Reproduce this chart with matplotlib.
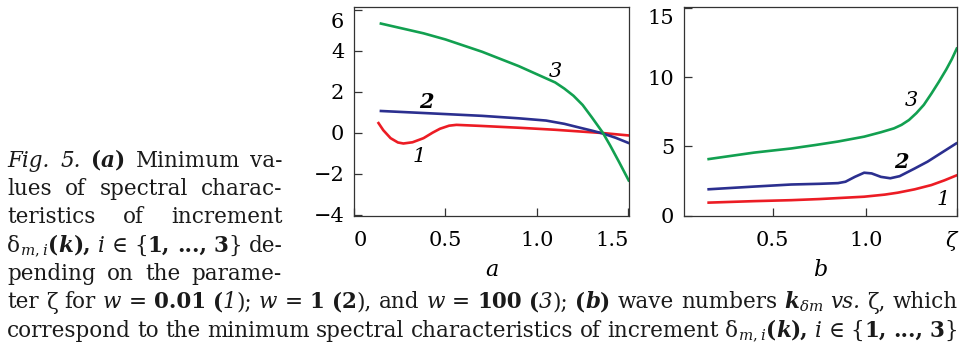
import matplotlib
matplotlib.use("Agg")
import matplotlib.pyplot as plt
from matplotlib.transforms import IdentityTransform, ScaledTranslation

# ---------------- data ----------------
# panel a: minimum spectral characteristics vs zeta
za1 = [0.13, 0.16, 0.20, 0.24, 0.27, 0.32, 0.38, 0.43, 0.47, 0.52, 0.56, 0.69, 0.90, 1.10, 1.36, 1.505]
va1 = [0.52, 0.12, -0.27, -0.48, -0.53, -0.47, -0.27, 0.00, 0.19, 0.34, 0.38, 0.33, 0.24, 0.14, -0.02, -0.14]
za2 = [0.14, 0.40, 0.70, 0.90, 1.05, 1.15, 1.24, 1.30, 1.36, 1.43, 1.505]
va2 = [1.06, 0.95, 0.82, 0.70, 0.59, 0.43, 0.23, 0.10, -0.04, -0.25, -0.52]
za3 = [0.14, 0.38, 0.50, 0.70, 0.90, 1.00, 1.10, 1.15, 1.20, 1.25, 1.30, 1.36, 1.40, 1.45, 1.505]
va3 = [5.34, 4.85, 4.55, 3.95, 3.25, 2.85, 2.45, 2.15, 1.80, 1.35, 0.75, 0.00, -0.62, -1.45, -2.39]

# panel b: wave numbers vs zeta
zb1 = [0.15, 0.40, 0.60, 0.75, 0.99, 1.10, 1.17, 1.26, 1.35, 1.42, 1.489]
vb1 = [0.94, 1.05, 1.12, 1.20, 1.37, 1.52, 1.66, 1.90, 2.21, 2.55, 2.93]
zb2 = [0.15, 0.40, 0.60, 0.75, 0.85, 0.89, 0.94, 0.99, 1.03, 1.08, 1.13, 1.18, 1.26, 1.33, 1.40, 1.489]
vb2 = [1.90, 2.10, 2.25, 2.30, 2.35, 2.45, 2.80, 3.10, 3.05, 2.80, 2.70, 2.85, 3.40, 3.90, 4.50, 5.26]
zb3 = [0.15, 0.40, 0.60, 0.73, 0.85, 0.99, 1.08, 1.15, 1.19, 1.23, 1.27, 1.31, 1.35, 1.39, 1.43, 1.46, 1.489]
vb3 = [4.07, 4.55, 4.85, 5.10, 5.35, 5.70, 6.02, 6.30, 6.55, 6.90, 7.40, 8.00, 8.80, 9.65, 10.55, 11.30, 12.14]

xticks_a = [0, 0.5, 1.0, 1.5]
xticklabels_a = ["0", "0.5", "1.0", "1.5"]
yticks_a = [-4, -2, 0, 2, 4, 6]
xticks_b = [0.5, 1.0, 1.489]
xticklabels_b = ["0.5", "1.0", "ζ"]
yticks_b = [0, 5, 10, 15]

curve_labels = ["1", "2", "3"]

RED = "#ec1c24"
BLUE = "#2b2f8f"
GREEN = "#12a050"
SPINE = "#333333"

W, H = 964, 352
fig = plt.figure(figsize=(W / 100, H / 100), dpi=100)

def px_axes(l, t, r, b):
    return fig.add_axes([l / W, 1 - b / H, (r - l) / W, (b - t) / H])

axa = px_axes(354, 7.3, 629.3, 216)
axb = px_axes(684, 7.3, 957.3, 215.7)

TICKFONT = dict(family="DejaVu Serif", size=15)

for ax in (axa, axb):
    for sp in ax.spines.values():
        sp.set_color(SPINE)
        sp.set_linewidth(0.9)
    ax.tick_params(direction="in", length=6, width=0.9, color=SPINE,
                   top=False, right=False)
    ax.tick_params(axis="x", pad=11)
    ax.tick_params(axis="y", pad=7)

lw = 1.9
axa.plot(za1, va1, color=RED, lw=lw, solid_capstyle="butt")
axa.plot(za2, va2, color=BLUE, lw=lw, solid_capstyle="butt")
axa.plot(za3, va3, color=GREEN, lw=lw, solid_capstyle="butt")
axa.set_xlim(0, 1.505)
axa.set_ylim(-4.07, 6.12)
axa.set_xticks(xticks_a)
axa.set_xticklabels(xticklabels_a, fontdict=TICKFONT)
axa.set_yticks(yticks_a)
axa.set_yticklabels([f"{v}".replace("-", "\u2212") for v in yticks_a], fontdict=TICKFONT)
xl = axa.get_xticklabels()
xl[0].set_ha("left")
xl[-1].set_ha("right")
axa.get_yticklabels()[-1].set_transform(
    axa.get_yticklabels()[-1].get_transform() + ScaledTranslation(0, -0.11, fig.dpi_scale_trans))
axa.set_xlabel("a", family="DejaVu Serif", style="italic", size=16, labelpad=6)

axb.plot(zb1, vb1, color=RED, lw=lw, solid_capstyle="butt")
axb.plot(zb2, vb2, color=BLUE, lw=lw, solid_capstyle="butt")
axb.plot(zb3, vb3, color=GREEN, lw=lw, solid_capstyle="butt")
axb.set_xlim(0.025, 1.489)
axb.set_ylim(0, 15.03)
axb.set_xticks(xticks_b)
axb.set_xticklabels(xticklabels_b, fontdict=TICKFONT)
axb.get_xticklabels()[-1].set_ha("right")
axb.get_xticklabels()[-1].set_style("italic")
axb.set_yticks(yticks_b)
axb.set_yticklabels([str(v) for v in yticks_b], fontdict=TICKFONT)
axb.get_yticklabels()[-1].set_transform(
    axb.get_yticklabels()[-1].get_transform() + ScaledTranslation(0, -0.085, fig.dpi_scale_trans))
axb.set_xlabel("b", family="DejaVu Serif", style="italic", size=16, labelpad=6)

LBL = dict(family="DejaVu Serif", style="italic", size=15, ha="center", va="center")
axa.text(0.355, -1.17, curve_labels[0], **LBL)
axa.text(0.396, 1.51, curve_labels[1], weight="bold", **LBL)
axa.text(1.10, 2.98, curve_labels[2], **LBL)
axb.text(1.411, 1.20, curve_labels[0], **LBL)
axb.text(1.187, 3.89, curve_labels[1], weight="bold", **LBL)
axb.text(1.245, 8.34, curve_labels[2], **LBL)

# ---------------- caption (justified) ----------------
renderer = fig.canvas.get_renderer()

N = {}
I = dict(style="italic")
B = dict(weight="bold")
BI = dict(weight="bold", style="italic")
M = dict(math_fontfamily="dejavuserif")

def place_line(words, x0, x1, baseline, family, size):
    y = H - baseline
    objs, widths = [], []
    for w in words:
        segs, tot = [], 0.0
        for s, kw in w:
            t = fig.text(0, y, s, transform=IdentityTransform(), family=family,
                         size=size, va="baseline", ha="left", color="#1a1a1a", **kw)
            bb = t.get_window_extent(renderer)
            segs.append((t, bb.width))
            tot += bb.width
        objs.append(segs)
        widths.append(tot)
    gap = (x1 - x0 - sum(widths)) / max(len(words) - 1, 1)
    x = x0
    for segs in objs:
        for t, wdt in segs:
            t.set_x(x)
            x += wdt
        x += gap

def simple(text, kw=N):
    return [[(w, kw)] for w in text.split()]

LF = ["DejaVu Serif", "DejaVu Sans"]
LS = 15.5
x0, x1 = 7.3, 282.7
place_line([[("Fig.", I)], [("5.", I)], [("(", B), ("a", BI), (")", B)],
            [("Minimum", N)], [("va-", N)]], x0, x1, 166.7, LF, LS)
place_line(simple("lues of spectral charac-"), x0, x1, 195.0, LF, LS)
place_line(simple("teristics of increment"), x0, x1, 223.3, LF, LS)
place_line([[("δ", N), ("$_{m,i}$", M), ("(", B), ("k", BI), ("),", B)],
            [("i", I)], [("∈", N)], [("{", N), ("1,", B)], [("...,", B)],
            [("3", B), ("}", N)], [("de-", N)]], x0, x1, 251.7, LF, LS)
place_line(simple("pending on the parame-"), x0, x1 - 1, 280.0, LF, LS)

BF = LF
BS = LS
MB = M
X1 = 958
line6 = [[("ter", N)], [("ζ", N)], [("for", N)], [("w", I)], [("=", N)],
         [("0.01", B)], [("(", B), ("1", I), (");", N)], [("w", I)], [("=", N)],
         [("1", B)], [("(", B), ("2", B), ("),", N)], [("and", N)], [("w", I)],
         [("=", N)], [("100", B)], [("(", B), ("3", I), (");", N)],
         [("(", B), ("b", BI), (")", B)], [("wave", N)], [("numbers", N)],
         [("k", BI), ("$_{\\delta m}$", MB)], [("vs.", I)], [("ζ,", N)], [("which", N)]]
place_line(line6, x0, X1, 308.5, BF, BS)
line7 = simple("correspond to the minimum spectral characteristics of increment") + [
    [("δ", N), ("$_{m,i}$", MB), ("(", B), ("k", BI), ("),", B)],
    [("i", I)], [("∈", N)], [("{", N), ("1,", B)], [("...,", B)], [("3", B), ("}", N)]]
place_line(line7, x0, X1, 336.7, BF, BS)

fig.savefig("out.png", dpi=100)
